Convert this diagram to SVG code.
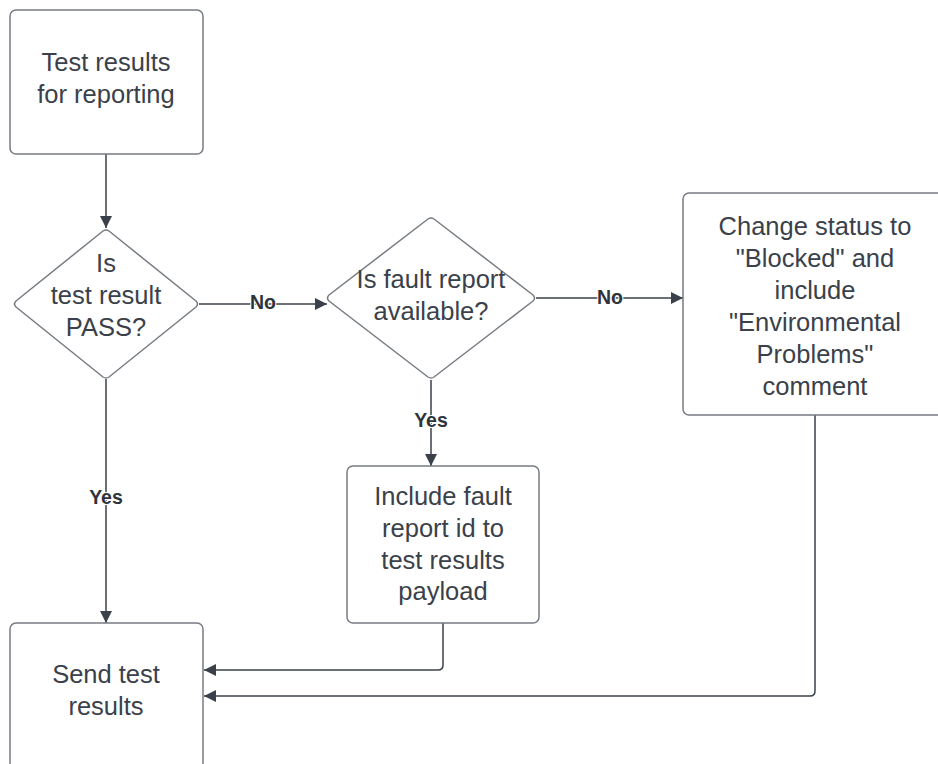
<svg xmlns="http://www.w3.org/2000/svg" width="938" height="764" viewBox="0 0 938 764">
  <style>
    .shape { fill: #ffffff; stroke: #777c84; stroke-width: 1.5; }
    .txt { font-family: "Liberation Sans", Arial, sans-serif; font-size: 25.5px; fill: #3a414a; text-anchor: middle; }
    .lbl { font-family: "Liberation Sans", Arial, sans-serif; font-size: 19.5px; font-weight: bold; fill: #2e343b; text-anchor: middle; stroke: #ffffff; stroke-width: 2; paint-order: stroke; }
    .edge { fill: none; stroke: #3a414a; stroke-width: 1.5; }
  </style>
  <defs>
    <marker id="arrow" viewBox="0 0 12 12" refX="12" refY="6" markerWidth="12" markerHeight="12" markerUnits="userSpaceOnUse" orient="auto">
      <path d="M0,0 L12,6 L0,12 Z" fill="#3a414a"/>
    </marker>
  </defs>
  <rect width="938" height="764" fill="#ffffff"/>

  <!-- connectors -->
  <g id="connectors">
    <path class="edge" d="M106,154 L106,228" marker-end="url(#arrow)"/>
    <path class="edge" d="M199,304 L327,304" marker-end="url(#arrow)"/>
    <path class="edge" d="M536,298 L683,298" marker-end="url(#arrow)"/>
    <path class="edge" d="M431,380 L431,466" marker-end="url(#arrow)"/>
    <path class="edge" d="M106,379 L106,623" marker-end="url(#arrow)"/>
    <path class="edge" d="M443,623 L443,665 Q443,670 438,670 L204,670" marker-end="url(#arrow)"/>
    <path class="edge" d="M815,415 L815,691 Q815,696 810,696 L204,696" marker-end="url(#arrow)"/>
    <text class="lbl" x="263" y="309">No</text>
    <text class="lbl" x="610" y="304">No</text>
    <text class="lbl" x="431" y="427">Yes</text>
    <text class="lbl" x="106" y="504">Yes</text>
  </g>

  <g id="start">
    <rect class="shape" x="10" y="10" width="193" height="144" rx="6"/>
    <text class="txt" x="106" y="71">Test results</text>
    <text class="txt" x="106" y="103">for reporting</text>
  </g>

  <g id="is-pass">
    <path class="shape" d="M103,231 Q106,229 109,231 L196,301 Q199,304 196,307 L109,377 Q106,379 103,377 L16,307 Q13,304 16,301 Z"/>
    <text class="txt" x="106" y="272">Is</text>
    <text class="txt" x="106" y="304">test result</text>
    <text class="txt" x="106" y="336">PASS?</text>
  </g>

  <g id="fault-available">
    <path class="shape" d="M428,219 Q431,217 434,219 L533,295 Q536,298 533,301 L434,377 Q431,379 428,377 L329,301 Q326,298 329,295 Z"/>
    <text class="txt" x="431" y="288">Is fault report</text>
    <text class="txt" x="431" y="320">available?</text>
  </g>

  <g id="blocked">
    <rect class="shape" x="683" y="193" width="264" height="222" rx="6"/>
    <text class="txt" x="815" y="235">Change status to</text>
    <text class="txt" x="815" y="267">"Blocked" and</text>
    <text class="txt" x="815" y="299">include</text>
    <text class="txt" x="815" y="331">"Environmental</text>
    <text class="txt" x="815" y="363">Problems"</text>
    <text class="txt" x="815" y="395">comment</text>
  </g>

  <g id="include-fault">
    <rect class="shape" x="347" y="466" width="192" height="157" rx="6"/>
    <text class="txt" x="443" y="505">Include fault</text>
    <text class="txt" x="443" y="537">report id to</text>
    <text class="txt" x="443" y="569">test results</text>
    <text class="txt" x="443" y="600">payload</text>
  </g>

  <g id="send">
    <rect class="shape" x="10" y="623" width="193" height="146" rx="6"/>
    <text class="txt" x="106" y="683">Send test</text>
    <text class="txt" x="106" y="715">results</text>
  </g>
</svg>
